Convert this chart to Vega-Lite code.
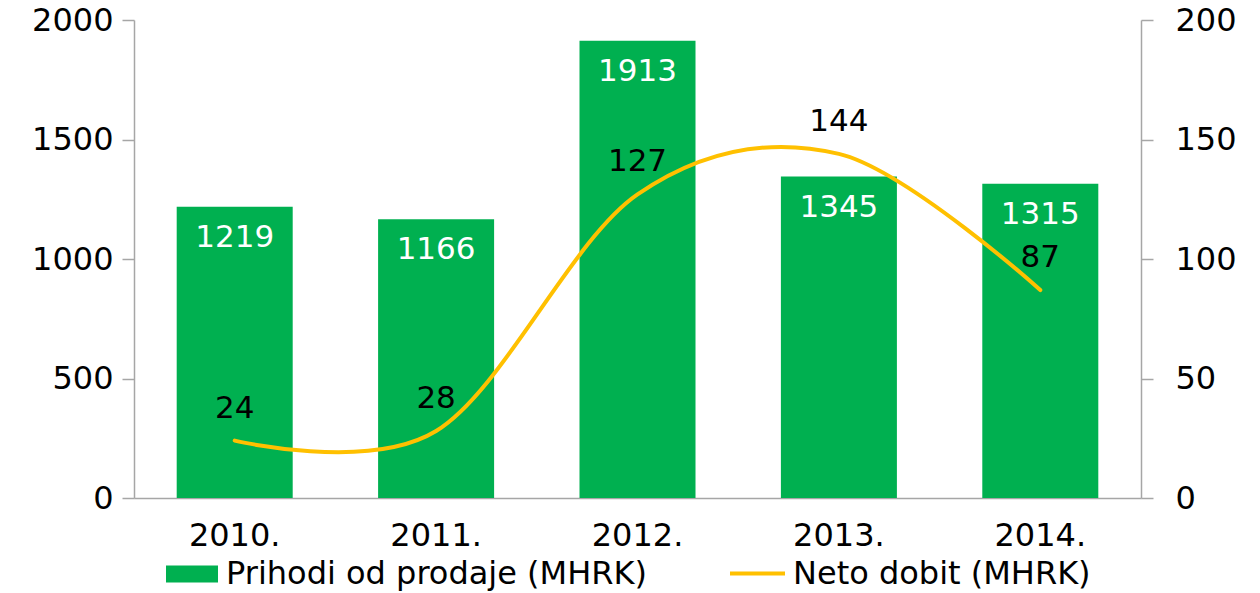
{
  "$schema": "https://vega.github.io/schema/vega-lite/v6.json",
  "width": 1007,
  "height": 478,
  "autosize": {"type": "none"},
  "padding": {"left": 134, "top": 20, "right": 119, "bottom": 95},
  "background": "white",
  "config": {
    "view": {"stroke": null},
    "font": "DejaVu Sans",
    "axis": {"labelFont": "DejaVu Sans", "labelFontSize": 32, "labelColor": "#000000", "domainColor": "#A6A6A6", "tickColor": "#A6A6A6", "domainWidth": 1.5, "tickWidth": 1.5, "grid": false, "title": null},
    "legend": {"labelFont": "DejaVu Sans", "labelFontSize": 32, "labelColor": "#000000", "padding": 0, "title": null, "labelLimit": 0}
  },
  "data": {
    "values": [
      {"year": "2010.", "revenue": 1219, "profit": 24},
      {"year": "2011.", "revenue": 1166, "profit": 28},
      {"year": "2012.", "revenue": 1913, "profit": 127},
      {"year": "2013.", "revenue": 1345, "profit": 144},
      {"year": "2014.", "revenue": 1315, "profit": 87}
    ]
  },
  "encoding": {
    "x": {
      "field": "year",
      "type": "nominal",
      "sort": null,
      "scale": {"paddingInner": 0.424, "paddingOuter": 0.212},
      "axis": {"labelAngle": 0, "ticks": false, "labelPadding": 22, "title": null}
    }
  },
  "layer": [
    {
      "layer": [
        {
          "mark": {"type": "bar"},
          "encoding": {
            "y": {"field": "revenue", "type": "quantitative", "scale": {"domain": [0, 2000]}, "axis": {"orient": "left", "values": [0, 500, 1000, 1500, 2000], "format": "d", "tickSize": 12, "labelPadding": 9, "title": null}},
            "fill": {
              "datum": "Prihodi od prodaje (MHRK)",
              "scale": {"range": ["#00B050"]},
              "legend": {"orient": "none", "legendX": 32, "legendY": 528, "symbolType": "M-1,-0.33H1V0.33H-1Z", "symbolSize": 2704, "symbolStrokeWidth": 0, "symbolOpacity": 1, "labelOffset": 8}
            }
          }
        },
        {
          "mark": {"type": "text", "baseline": "middle", "dy": 31, "fontSize": 31, "color": "white", "font": "DejaVu Sans"},
          "encoding": {
            "y": {"field": "revenue", "type": "quantitative"},
            "text": {"field": "revenue", "type": "quantitative"}
          }
        }
      ]
    },
    {
      "layer": [
        {
          "mark": {"type": "line", "interpolate": "cardinal", "strokeWidth": 4, "strokeCap": "round"},
          "encoding": {
            "y": {"field": "profit", "type": "quantitative", "scale": {"domain": [0, 200]}, "axis": {"orient": "right", "values": [0, 50, 100, 150, 200], "tickSize": 12, "labelPadding": 22, "title": null}},
            "stroke": {
              "datum": "Neto dobit (MHRK)",
              "scale": {"range": ["#FFC000"]},
              "legend": {"orient": "none", "legendX": 594, "legendY": 524, "symbolType": "stroke", "symbolSize": 3025, "symbolStrokeWidth": 4, "labelOffset": 6}
            }
          }
        },
        {
          "mark": {"type": "text", "baseline": "middle", "dy": -32, "fontSize": 31, "color": "black", "font": "DejaVu Sans"},
          "encoding": {
            "y": {"field": "profit", "type": "quantitative"},
            "text": {"field": "profit", "type": "quantitative"}
          }
        }
      ]
    }
  ],
  "resolve": {"scale": {"y": "independent"}}
}
